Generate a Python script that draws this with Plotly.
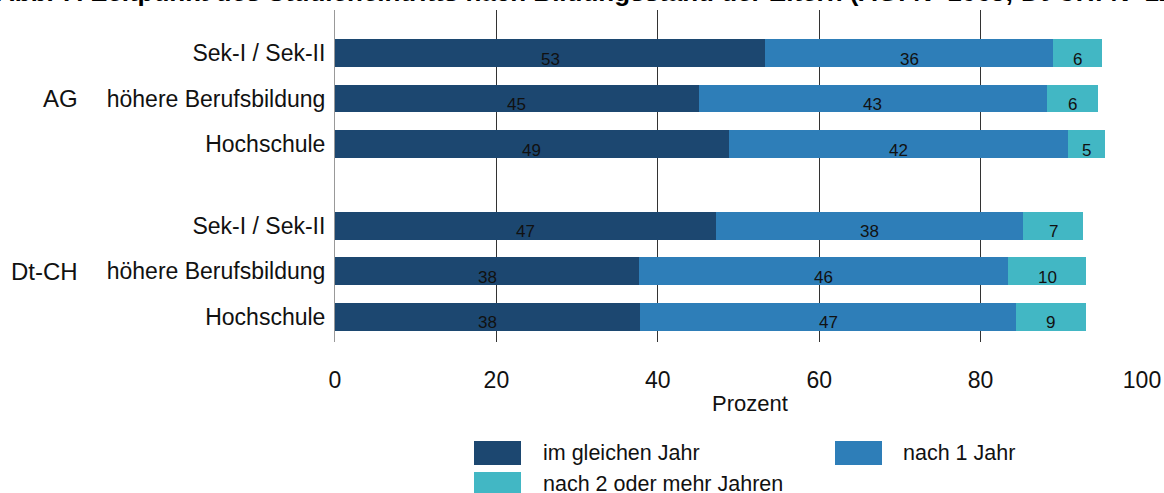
import plotly.graph_objects as go

# ---- data ----
groups = ["AG", "Dt-CH"]
subcats = ["Sek-I / Sek-II", "höhere Berufsbildung", "Hochschule"]
series_names = ["im gleichen Jahr", "nach 1 Jahr", "nach 2 oder mehr Jahren"]
# values per bar, order: AG (Sek, höhere, Hochschule), Dt-CH (Sek, höhere, Hochschule)
im_gleichen_jahr = [53.3, 45.1, 48.8, 47.2, 37.7, 37.8]
nach_1_jahr = [35.7, 43.1, 42.0, 38.1, 45.7, 46.6]
nach_2_mehr = [6.0, 6.3, 4.6, 7.4, 9.7, 8.6]
x_ticks = [0, 20, 40, 60, 80, 100]
x_title = "Prozent"
title_text = "Abb. 7: Zeitpunkt des Studieneintritts nach Bildungsstand der Eltern (AG: N=1063; Dt-CH: N=1200)"

# ---- styles / layout ----
FONT = "Liberation Sans, Arial, sans-serif"
colors = ["#1c4770", "#2e7eb8", "#42b7c4"]
W, H = 1164, 493
ML, MR, MT, MB = 335, 22, 10, 151
PW, PH = W - ML - MR, H - MT - MB
GROUP_GAP = 0.8
BAR_PX = 45.5  # pixel distance between neighbouring bars


def px_x(px):
    return (px - ML) / PW


def px_y(py):
    return (H - MB - py) / PH


# y positions computed from group/subcategory indices
positions = []
tick_text = []
for gi, g in enumerate(groups):
    for si, s in enumerate(subcats):
        positions.append(gi * (len(subcats) + GROUP_GAP) + si)
        tick_text.append(s)

series = [im_gleichen_jahr, nach_1_jahr, nach_2_mehr]

fig = go.Figure()
for name, vals, col in zip(series_names, series, colors):
    fig.add_trace(go.Bar(
        y=positions, x=vals, orientation="h", name=name,
        marker=dict(color=col, line=dict(width=0)), width=0.615,
        showlegend=False, hoverinfo="x+name",
    ))

annotations = []
# value labels centred in each segment, slightly below the bar centre
cum = [0.0] * len(positions)
for vals in series:
    for k, v in enumerate(vals):
        annotations.append(dict(
            x=cum[k] + v / 2, y=positions[k], xref="x", yref="y",
            text=str(int(round(v))), showarrow=False, yshift=-6,
            font=dict(size=17, color="#111111", family=FONT),
        ))
        cum[k] += v

# group labels
for gi, g in enumerate(groups):
    mid = positions[gi * len(subcats) + 1]
    annotations.append(dict(
        x=px_x(80), y=mid, xref="paper", yref="y", xanchor="right",
        text=g, showarrow=False,
        font=dict(size=24, color="#111111", family=FONT),
    ))

# x-axis title
annotations.append(dict(
    x=px_x(750), y=px_y(403), xref="paper", yref="paper",
    xanchor="center", yanchor="middle", text=x_title, showarrow=False,
    font=dict(size=22, color="#111111", family=FONT),
))

# title (partly cut off at the top, as in reference)
annotations.append(dict(
    x=px_x(-6), y=px_y(9), xref="paper", yref="paper", xanchor="left", yanchor="bottom",
    text="<b>" + title_text + "</b>", showarrow=False,
    font=dict(size=26, color="#000000", family=FONT),
))

# custom legend
shapes = []
legend_slots = [(474, 441, 541), (835, 441, 901), (474, 472, 541)]
for (sx, sy, tx), name, col in zip(legend_slots, series_names, colors):
    shapes.append(dict(
        type="rect", xref="paper", yref="paper",
        x0=px_x(sx), x1=px_x(sx + 47), y0=px_y(sy), y1=px_y(sy + 24),
        fillcolor=col, line=dict(width=0),
    ))
    annotations.append(dict(
        x=px_x(tx), y=px_y(sy + 12), xref="paper", yref="paper",
        xanchor="left", yanchor="middle", text=name, showarrow=False,
        font=dict(size=21.5, color="#111111", family=FONT),
    ))

ymin = positions[0] - (53 - MT) / BAR_PX
ymax = positions[0] + (H - MB - 53) / BAR_PX

fig.update_layout(
    width=W, height=H,
    margin=dict(l=ML, r=MR, t=MT, b=MB, pad=0, autoexpand=False),
    barmode="stack", bargap=0,
    plot_bgcolor="white", paper_bgcolor="white",
    font=dict(family=FONT, size=22, color="#111111"),
    annotations=annotations, shapes=shapes,
    showlegend=False,
    xaxis=dict(
        range=[0, 100], tickvals=x_ticks, ticktext=[str(t) for t in x_ticks],
        showgrid=True, gridcolor="#333333", gridwidth=1,
        zeroline=False, showline=False, automargin=False,
        ticks="outside", ticklen=17, tickcolor="rgba(0,0,0,0)",
        tickfont=dict(size=23),
    ),
    yaxis=dict(
        range=[ymax, ymin], tickvals=positions, ticktext=tick_text,
        showgrid=False, zeroline=False, automargin=False,
        showline=True, linecolor="#999999", linewidth=1,
        ticks="", ticklabelstandoff=4, tickfont=dict(size=23),
    ),
)

fig.write_html("out.html", config={"displayModeBar": False},
               post_script="document.body.style.margin='0';")
